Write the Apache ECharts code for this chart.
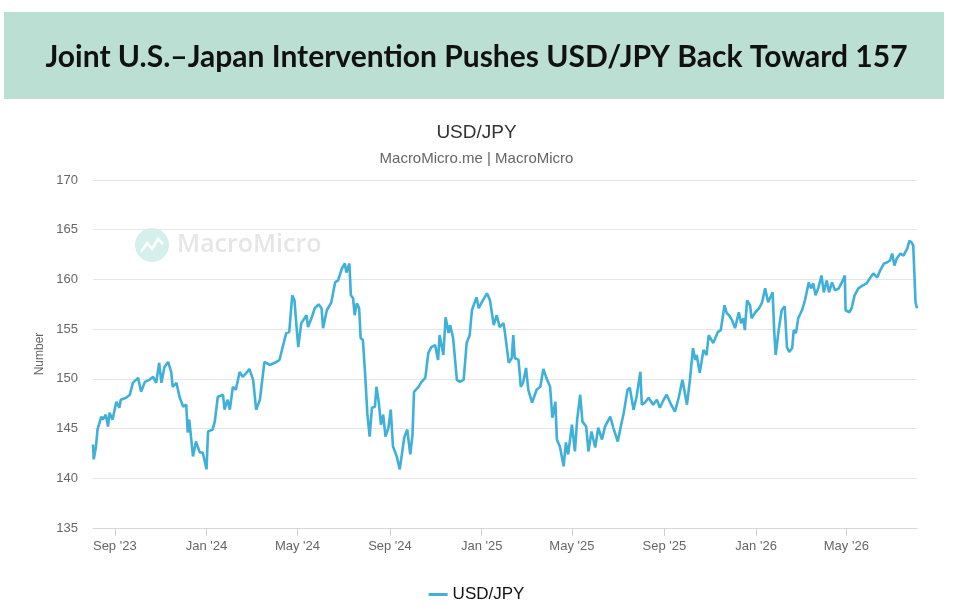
<!DOCTYPE html>
<html>
<head>
<meta charset="UTF-8">
<title>USD/JPY</title>
<script src="https://cdn.jsdelivr.net/npm/echarts@6/dist/echarts.min.js"></script>
<style>
  * { margin: 0; padding: 0; }
  html, body { background: #fff; }
  #chart { width: 953px; height: 612px; }
</style>
</head>
<body>
<div id="chart"></div>
<script>
var headline = 'Joint U.S.\u2013Japan Intervention Pushes USD/JPY Back Toward 157';
var seriesName = 'USD/JPY';
var sourceText = 'MacroMicro.me | MacroMicro';
var monthNames = ['Jan', 'Feb', 'Mar', 'Apr', 'May', 'Jun', 'Jul', 'Aug', 'Sep', 'Oct', 'Nov', 'Dec'];
var tickDates = ['2023-09-01', '2024-01-01', '2024-05-01', '2024-09-01', '2025-01-01',
  '2025-05-01', '2025-09-01', '2026-01-01', '2026-05-01'];

var dates = [
  '2023-08-03','2023-08-04','2023-08-07','2023-08-09','2023-08-14','2023-08-16','2023-08-20','2023-08-23',
  '2023-08-25','2023-08-29','2023-09-03','2023-09-07','2023-09-09','2023-09-16','2023-09-21','2023-09-25',
  '2023-10-02','2023-10-06','2023-10-11','2023-10-17','2023-10-22','2023-10-26','2023-10-30','2023-11-02',
  '2023-11-06','2023-11-11','2023-11-15','2023-11-17','2023-11-22','2023-11-26','2023-12-01','2023-12-05',
  '2023-12-07','2023-12-09','2023-12-14','2023-12-18','2023-12-23','2023-12-27','2024-01-01','2024-01-03',
  '2024-01-09','2024-01-12','2024-01-16','2024-01-23','2024-01-25','2024-01-29','2024-02-01','2024-02-05',
  '2024-02-09','2024-02-14','2024-02-18','2024-02-23','2024-02-27','2024-03-03','2024-03-07','2024-03-12',
  '2024-03-18','2024-03-25','2024-04-03','2024-04-07','2024-04-12','2024-04-16','2024-04-20','2024-04-24',
  '2024-04-27','2024-04-29','2024-05-02','2024-05-06',
  '2024-05-13','2024-05-15','2024-05-20','2024-05-24','2024-05-29','2024-06-02','2024-06-04','2024-06-09',
  '2024-06-15','2024-06-20','2024-06-24','2024-06-29','2024-07-03','2024-07-05','2024-07-09','2024-07-11',
  '2024-07-14','2024-07-16','2024-07-19','2024-07-22','2024-07-24','2024-07-27','2024-07-30','2024-08-02',
  '2024-08-05','2024-08-08','2024-08-12','2024-08-14','2024-08-17','2024-08-20','2024-08-23','2024-08-26',
  '2024-08-30','2024-09-02','2024-09-05','2024-09-10','2024-09-14','2024-09-16','2024-09-20','2024-09-24',
  '2024-09-28','2024-10-01','2024-10-03','2024-10-09','2024-10-13','2024-10-18','2024-10-22','2024-10-26',
  '2024-10-31','2024-11-04','2024-11-06','2024-11-11','2024-11-14','2024-11-18','2024-11-20','2024-11-24',
  '2024-11-29','2024-12-03','2024-12-08','2024-12-12','2024-12-16','2024-12-19','2024-12-25','2024-12-28',
  '2025-01-01','2025-01-08','2025-01-12','2025-01-17','2025-01-21','2025-01-25','2025-01-30','2025-02-01',
  '2025-02-06',
  '2025-02-10','2025-02-12','2025-02-14','2025-02-19','2025-02-22','2025-02-25','2025-03-01','2025-03-04',
  '2025-03-09','2025-03-15','2025-03-20','2025-03-24','2025-03-29','2025-04-02','2025-04-05','2025-04-09',
  '2025-04-11','2025-04-15','2025-04-20','2025-04-23','2025-04-26','2025-05-01','2025-05-05','2025-05-08',
  '2025-05-12','2025-05-15','2025-05-20','2025-05-23','2025-05-27','2025-06-01','2025-06-05','2025-06-10',
  '2025-06-14','2025-06-21','2025-06-25','2025-07-01','2025-07-05','2025-07-09','2025-07-14','2025-07-17',
  '2025-07-22','2025-07-26','2025-07-31','2025-08-02','2025-08-06','2025-08-11','2025-08-17','2025-08-22',
  '2025-08-26','2025-08-31','2025-09-04','2025-09-10','2025-09-15','2025-09-20','2025-09-25','2025-10-01',
  '2025-10-05','2025-10-09','2025-10-12','2025-10-14','2025-10-18','2025-10-23','2025-10-27','2025-10-30',
  '2025-11-05',
  '2025-11-11','2025-11-15','2025-11-20','2025-11-23','2025-11-26','2025-11-30','2025-12-04','2025-12-09',
  '2025-12-12','2025-12-15','2025-12-17','2025-12-20','2025-12-24','2025-12-26','2025-12-31','2026-01-05',
  '2026-01-09','2026-01-13','2026-01-17','2026-01-20','2026-01-23','2026-01-25','2026-01-27','2026-01-31',
  '2026-02-04','2026-02-08','2026-02-11','2026-02-14','2026-02-18','2026-02-20','2026-02-23','2026-02-26',
  '2026-03-03','2026-03-07','2026-03-12','2026-03-15','2026-03-18','2026-03-21','2026-03-25','2026-03-29',
  '2026-04-01','2026-04-05','2026-04-08','2026-04-12','2026-04-16','2026-04-21','2026-04-25','2026-04-29',
  '2026-04-30','2026-05-05','2026-05-08','2026-05-12','2026-05-17','2026-05-23','2026-05-28','2026-06-02',
  '2026-06-06','2026-06-11','2026-06-15','2026-06-20','2026-06-24','2026-06-28','2026-07-01','2026-07-04',
  '2026-07-07','2026-07-12','2026-07-16','2026-07-21','2026-07-24','2026-07-27','2026-07-29','2026-08-01',
  '2026-08-03'
];

var usdJpy = [
  143.4,141.9,143.2,144.9,146.2,145.9,146.4,145.2,
  146.6,145.9,147.7,147.1,147.9,148.1,148.4,149.6,
  150.1,148.7,149.7,149.9,150.2,149.6,151.6,149.6,
  151.2,151.7,150.7,149.2,149.6,148.2,147.2,147.4,
  144.6,145.9,142.2,143.7,142.6,142.6,140.9,144.7,
  144.9,145.7,148.2,148.4,146.9,147.9,146.9,149.2,
  148.9,150.7,150.2,150.6,151.0,149.9,146.9,147.9,
  151.7,151.4,151.7,151.9,153.4,154.6,154.7,158.4,
  157.9,155.9,153.2,155.6,
  156.4,155.2,156.2,157.1,157.5,157.1,155.1,156.9,
  157.7,159.7,159.9,161.1,161.6,160.7,161.6,158.4,
  158.1,156.4,157.6,157.1,154.1,153.9,150.4,146.4,
  144.2,147.1,147.2,149.2,147.7,145.4,146.4,144.2,
  145.1,146.9,143.2,142.2,140.9,141.1,144.1,144.9,
  142.4,144.4,148.7,149.2,149.7,150.1,152.6,153.2,
  153.4,151.9,154.4,152.4,156.2,154.6,155.4,154.1,
  149.9,149.7,149.9,153.6,154.4,156.9,158.2,157.1,
  157.7,158.6,157.9,155.4,156.4,155.2,155.6,154.6,
  151.6,
  152.1,154.4,152.1,151.9,149.2,149.6,151.1,148.9,
  147.6,148.9,149.2,151.0,149.9,149.2,146.1,147.7,
  143.9,143.2,141.2,143.6,142.4,145.4,142.7,145.9,
  148.4,145.7,145.2,142.7,144.7,143.1,145.1,143.9,
  145.2,146.2,145.1,143.7,145.2,146.6,148.9,149.1,
  146.9,148.2,150.7,147.4,147.6,148.1,147.4,147.9,
  147.1,147.9,148.4,147.4,146.7,148.1,149.9,147.4,
  149.9,153.1,151.9,152.4,150.6,152.9,152.4,154.4,
  153.6,
  154.7,154.9,157.4,156.6,156.4,155.9,155.1,156.7,
  155.6,156.1,154.9,157.9,157.4,156.1,156.7,157.1,
  157.7,159.1,157.7,158.2,158.7,154.9,152.4,154.9,
  156.9,157.3,153.2,152.7,153.1,154.9,154.6,156.1,
  156.9,157.9,159.7,159.1,159.6,158.4,159.2,160.4,
  158.7,159.9,158.7,159.7,158.9,159.1,159.7,160.4,
  156.9,156.7,157.1,158.4,159.1,159.4,159.6,160.2,
  160.6,160.2,160.9,161.6,161.7,161.9,162.6,161.4,
  162.1,162.6,162.4,163.1,163.9,163.7,163.4,157.7,
  157.1
];

var chart = echarts.init(document.getElementById('chart'));

function toTime(s) {
  return +echarts.number.parseDate(s);
}

var lineData = dates.map(function (d, i) {
  return [toTime(d), usdJpy[i]];
});

var tickValues = tickDates.map(toTime);

function fmtMonth(v) {
  var d = new Date(v);
  return monthNames[d.getMonth()] + " '" + String(d.getFullYear()).slice(2);
}

var axisFont = '"Liberation Sans", Arial, Helvetica, sans-serif';

var option = {
  backgroundColor: '#fff',
  animation: false,
  title: [{
    text: headline,
    left: 'center',
    top: 37,
    textStyle: { fontFamily: 'Lato', fontWeight: 'bold', fontSize: 30, color: '#111' }
  }, {
    text: seriesName,
    subtext: sourceText,
    left: 'center',
    top: 118,
    itemGap: 9,
    textStyle: { fontFamily: axisFont, fontWeight: 'normal', fontSize: 19, color: '#333' },
    subtextStyle: { fontFamily: axisFont, fontSize: 15, color: '#666' }
  }],
  graphic: [{
    type: 'rect',
    z: -10,
    shape: { x: 4, y: 12, width: 940, height: 87 },
    style: { fill: '#bcdfd3' }
  }, {
    type: 'group',
    left: 135,
    top: 228,
    z: -5,
    children: [{
      type: 'circle',
      shape: { cx: 18, cy: 17, r: 17 },
      style: { fill: '#d5efed' }
    }, {
      type: 'polyline',
      shape: { points: [[7, 24], [13, 15], [18, 21], [24, 11], [29, 16]] },
      style: { stroke: '#fff', lineWidth: 2.5, fill: null }
    }, {
      type: 'text',
      style: {
        x: 43, y: 17, text: 'MacroMicro', fill: '#e6e6e6',
        font: '600 25px "Open Sans", sans-serif', verticalAlign: 'middle'
      }
    }]
  }],
  legend: {
    data: [seriesName],
    left: 'center',
    top: 581,
    icon: 'rect',
    itemWidth: 19,
    itemHeight: 3,
    itemGap: 6,
    textStyle: { fontFamily: axisFont, fontSize: 17, color: '#111' }
  },
  grid: { left: 93, right: 36, top: 180, bottom: 84, containLabel: false },
  xAxis: {
    type: 'value',
    min: lineData[0][0],
    max: lineData[lineData.length - 1][0],
    axisLine: { lineStyle: { color: '#d8d8d8', width: 1 } },
    axisTick: { show: true, customValues: tickValues, length: 8, lineStyle: { color: '#d0d0d0' } },
    axisLabel: {
      customValues: tickValues,
      formatter: fmtMonth,
      color: '#666',
      fontSize: 13,
      fontFamily: axisFont,
      margin: 12
    },
    splitLine: { show: false }
  },
  yAxis: {
    type: 'value',
    min: 135,
    max: 170,
    interval: 5,
    name: 'Number',
    nameLocation: 'middle',
    nameGap: 42,
    nameTextStyle: { color: '#666', fontSize: 12, fontFamily: axisFont },
    axisLine: { show: false },
    axisTick: { show: false },
    axisLabel: { color: '#666', fontSize: 13, fontFamily: axisFont, margin: 15 },
    splitLine: { lineStyle: { color: '#e6e6e6', width: 1 } }
  },
  series: [{
    name: seriesName,
    type: 'line',
    data: lineData,
    showSymbol: false,
    symbol: 'none',
    lineStyle: { color: '#3fb0da', width: 2.6 },
    itemStyle: { color: '#3fb0da' }
  }]
};

chart.setOption(option);
</script>
</body>
</html>
